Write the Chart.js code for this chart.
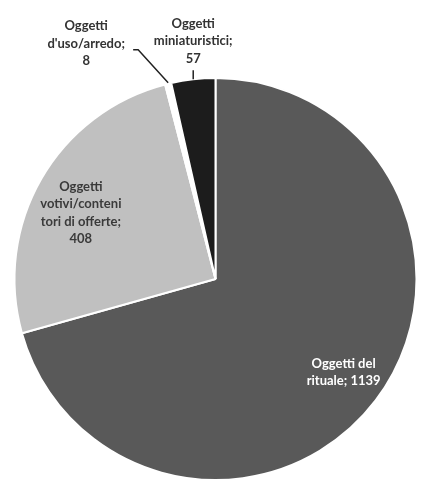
<!DOCTYPE html>
<html>
<head>
<meta charset="utf-8">
<script src="https://cdn.jsdelivr.net/npm/chart.js@4/dist/chart.umd.min.js"></script>
<style>
  html, body { margin: 0; padding: 0; background: #fff; }
  #wrap { width: 421px; height: 484px; }
</style>
</head>
<body>
<div id="wrap"><canvas id="myChart" width="421" height="484"></canvas></div>
<script>
var categories = ["Oggetti del rituale", "Oggetti votivi/contenitori di offerte", "Oggetti d'uso/arredo", "Oggetti miniaturistici"];
var values = [1139, 408, 8, 57];
var sliceColors = ["#595959", "#c0c0c0", "#ffffff", "#1c1c1c"];

// label lines as they wrap in the picture
var labelLines = [
  ["Oggetti del", "rituale; " + values[0]],
  ["Oggetti", "votivi/conteni", "tori di offerte;", String(values[1])],
  ["Oggetti", "d'uso/arredo;", String(values[2])],
  ["Oggetti", "miniaturistici;", String(values[3])]
];

// placement: r = fraction of radius along mid angle, dx/dy shift; leader = outside label
var labelPlace = [
  { r: 0.8, dx: 0, dy: -4, color: "#ffffff" },
  { r: 0.75, dx: -4, dy: 9, color: "#3a3a3a" },
  { r: 1, dx: -82, dy: -40, color: "#333333", leader: [[-35, -34], [-30, -34], [0, -1]] },
  { r: 1, dx: 0, dy: -38, color: "#333333", leader: [[0, -9], [0, 0]] }
];

var labelPlugin = {
  id: 'sliceLabels',
  afterDatasetsDraw: function(chart) {
    var ctx = chart.ctx;
    var meta = chart.getDatasetMeta(0);
    ctx.save();
    ctx.font = "bold 13px Lato, 'Open Sans', sans-serif";
    ctx.textAlign = "center";
    ctx.textBaseline = "middle";
    meta.data.forEach(function(arc, i) {
      var p = arc.getProps(['x', 'y', 'startAngle', 'endAngle', 'outerRadius'], true);
      var mid = (p.startAngle + p.endAngle) / 2;
      var pl = labelPlace[i];
      var ex = p.x + Math.cos(mid) * p.outerRadius * pl.r;
      var ey = p.y + Math.sin(mid) * p.outerRadius * pl.r;
      if (pl.leader) {
        ctx.strokeStyle = "#222";
        ctx.lineWidth = 1.5;
        ctx.beginPath();
        pl.leader.forEach(function(pt, k) {
          if (k === 0) ctx.moveTo(ex + pt[0], ey + pt[1]);
          else ctx.lineTo(ex + pt[0], ey + pt[1]);
        });
        ctx.stroke();
      }
      var lines = labelLines[i];
      var lh = 17.5;
      var cx = ex + pl.dx, cy = ey + pl.dy;
      ctx.fillStyle = pl.color;
      lines.forEach(function(t, k) {
        ctx.fillText(t, cx, cy + (k - (lines.length - 1) / 2) * lh);
      });
    });
    ctx.restore();
  }
};

var ctx = document.getElementById("myChart").getContext('2d');
var myChart = new Chart(ctx, {
  type: 'pie',
  data: {
    labels: categories,
    datasets: [{
      data: values,
      backgroundColor: sliceColors,
      borderColor: "#ffffff",
      borderWidth: 2
    }]
  },
  options: {
    responsive: false,
    animation: false,
    layout: { padding: { left: 13, right: 3, top: 77, bottom: 3 } },
    plugins: {
      legend: { display: false },
      tooltip: { enabled: false }
    }
  },
  plugins: [labelPlugin]
});
</script>
</body>
</html>
